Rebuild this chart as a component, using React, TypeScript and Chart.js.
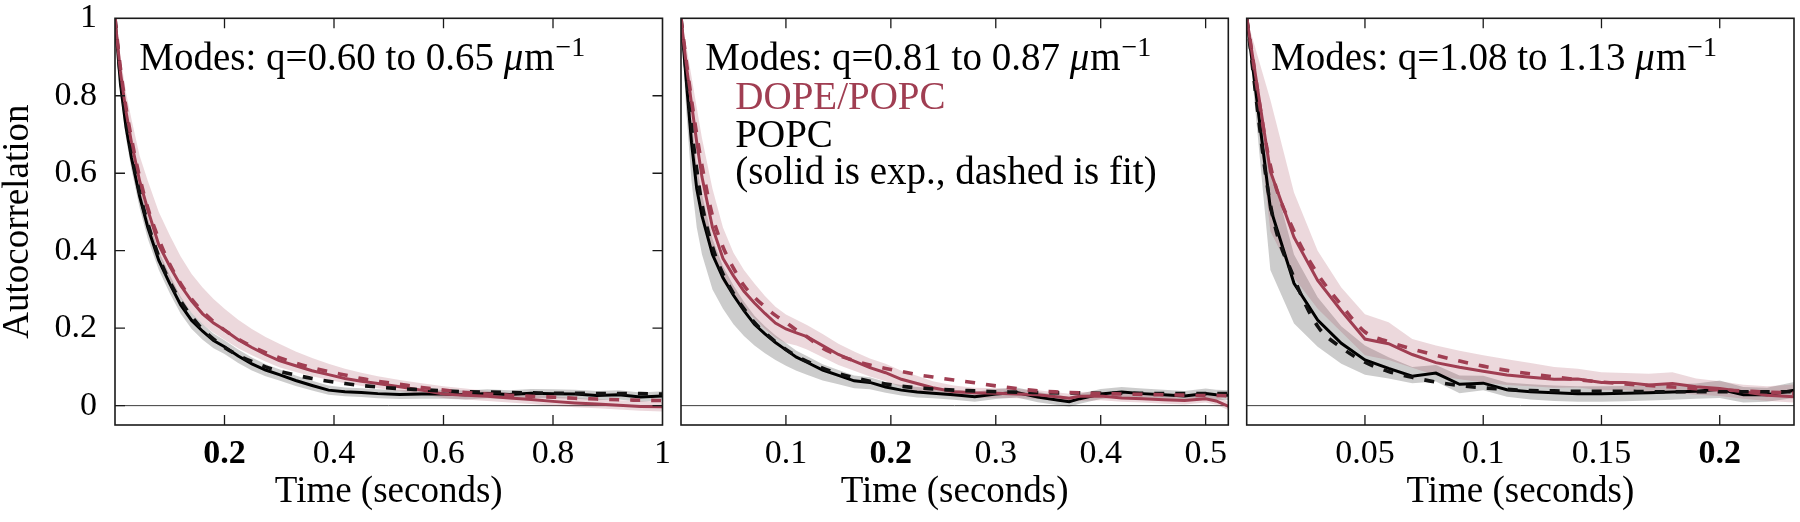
import React, { useEffect, useRef } from 'react';
import { Chart, registerables } from 'chart.js';

Chart.register(...registerables);

const FONT = '"Liberation Serif", "Times New Roman", serif';
const RED = 'rgb(160,62,82)';
const RED_BAND = 'rgba(160,62,82,0.2)';
const GRAY_BAND = 'rgba(0,0,0,0.2)';
const BLACK = '#000000';

// ---------- shared axis text ----------
const X_TITLE = 'Time (seconds)';
const Y_TITLE = 'Autocorrelation';
const YTICKS = [0, 0.2, 0.4, 0.6, 0.8, 1];
const YLABELS = ['0', '0.2', '0.4', '0.6', '0.8', '1'];
const BOLD_TICK = 0.2;
const UNIT_MU = 'μ';
const UNIT_M = 'm';
const UNIT_EXP = '−1';
const LEGEND_TEXT = ['DOPE/POPC', 'POPC', '(solid is exp., dashed is fit)'];

// ---------- panel 1: q = 0.60 to 0.65 ----------
const MODES1 = 'Modes: q=0.60 to 0.65 ';
const XMAX1 = 1;
const XTICKS1 = [0.2, 0.4, 0.6, 0.8, 1];
const XLABELS1 = ['0.2', '0.4', '0.6', '0.8', '1'];
const T1 = [0, 0.01, 0.02, 0.03, 0.045, 0.06, 0.08, 0.1, 0.12, 0.14, 0.16, 0.18, 0.2, 0.225, 0.25, 0.275, 0.3, 0.33, 0.36, 0.39, 0.42, 0.45, 0.48, 0.52, 0.56, 0.6, 0.64, 0.68, 0.72, 0.76, 0.8, 0.84, 0.88, 0.92, 0.96, 1.0];
const R1 = [1.0, 0.86, 0.76, 0.68, 0.58, 0.505, 0.415, 0.36, 0.31, 0.27, 0.237, 0.213, 0.195, 0.17, 0.15, 0.132, 0.116, 0.103, 0.09, 0.08, 0.07, 0.063, 0.057, 0.049, 0.04, 0.03, 0.027, 0.024, 0.02, 0.016, 0.011, 0.007, 0.004, 0.001, -0.002, -0.003];
const RF1 = [1.0, 0.87, 0.77, 0.69, 0.59, 0.51, 0.43, 0.365, 0.315, 0.275, 0.243, 0.217, 0.195, 0.172, 0.153, 0.137, 0.124, 0.11, 0.098, 0.088, 0.079, 0.07, 0.063, 0.055, 0.047, 0.04, 0.034, 0.03, 0.027, 0.024, 0.022, 0.019, 0.017, 0.015, 0.014, 0.013];
const B1 = [1.0, 0.83, 0.72, 0.64, 0.54, 0.46, 0.375, 0.315, 0.26, 0.22, 0.192, 0.168, 0.152, 0.128, 0.108, 0.092, 0.08, 0.065, 0.052, 0.04, 0.036, 0.034, 0.031, 0.029, 0.03, 0.03, 0.028, 0.031, 0.029, 0.032, 0.031, 0.03, 0.026, 0.028, 0.022, 0.025];
const BF1 = [1.0, 0.85, 0.74, 0.655, 0.55, 0.47, 0.385, 0.32, 0.27, 0.23, 0.197, 0.172, 0.15, 0.13, 0.114, 0.1, 0.089, 0.079, 0.07, 0.063, 0.057, 0.052, 0.048, 0.044, 0.041, 0.038, 0.036, 0.035, 0.034, 0.033, 0.032, 0.032, 0.031, 0.031, 0.031, 0.03];
const RU1 = [1.0, 0.9, 0.81, 0.74, 0.645, 0.58, 0.5, 0.44, 0.385, 0.34, 0.305, 0.275, 0.25, 0.222, 0.198, 0.177, 0.16, 0.14, 0.123, 0.108, 0.095, 0.085, 0.076, 0.066, 0.058, 0.05, 0.044, 0.038, 0.033, 0.029, 0.024, 0.02, 0.017, 0.014, 0.012, 0.01];
const RL1 = [1.0, 0.82, 0.72, 0.64, 0.545, 0.47, 0.39, 0.325, 0.278, 0.24, 0.21, 0.188, 0.17, 0.148, 0.13, 0.114, 0.099, 0.087, 0.076, 0.067, 0.058, 0.051, 0.045, 0.038, 0.03, 0.02, 0.016, 0.012, 0.008, 0.004, 0.0, -0.004, -0.007, -0.01, -0.013, -0.015];
const BU1 = [1.0, 0.85, 0.745, 0.665, 0.565, 0.485, 0.398, 0.337, 0.281, 0.24, 0.211, 0.186, 0.169, 0.145, 0.124, 0.107, 0.094, 0.078, 0.064, 0.052, 0.047, 0.045, 0.042, 0.04, 0.041, 0.041, 0.039, 0.042, 0.04, 0.043, 0.042, 0.041, 0.038, 0.04, 0.034, 0.037];
const BL1 = [1.0, 0.8, 0.69, 0.61, 0.51, 0.43, 0.35, 0.29, 0.237, 0.198, 0.17, 0.148, 0.133, 0.11, 0.091, 0.076, 0.065, 0.051, 0.039, 0.028, 0.024, 0.022, 0.019, 0.017, 0.018, 0.018, 0.016, 0.019, 0.017, 0.02, 0.019, 0.018, 0.014, 0.016, 0.01, 0.013];

// ---------- panel 2: q = 0.81 to 0.87 ----------
const MODES2 = 'Modes: q=0.81 to 0.87 ';
const XMAX2 = 0.5216;
const XTICKS2 = [0.1, 0.2, 0.3, 0.4, 0.5];
const XLABELS2 = ['0.1', '0.2', '0.3', '0.4', '0.5'];
const T2 = [0, 0.005, 0.01, 0.015, 0.02, 0.03, 0.04, 0.05, 0.06, 0.07, 0.08, 0.09, 0.1, 0.11, 0.12, 0.135, 0.15, 0.165, 0.18, 0.195, 0.21, 0.225, 0.24, 0.26, 0.28, 0.3, 0.32, 0.34, 0.36, 0.37, 0.38, 0.4, 0.42, 0.44, 0.46, 0.48, 0.5, 0.51, 0.522];
const R2 = [1.0, 0.88, 0.78, 0.68, 0.59, 0.46, 0.38, 0.335, 0.295, 0.265, 0.238, 0.213, 0.198, 0.188, 0.178, 0.155, 0.132, 0.115, 0.098, 0.085, 0.068, 0.057, 0.046, 0.036, 0.033, 0.032, 0.03, 0.028, 0.022, 0.019, 0.024, 0.025, 0.02, 0.018, 0.015, 0.013, 0.018, 0.012, -0.002];
const RF2 = [1.0, 0.89, 0.79, 0.7, 0.62, 0.49, 0.41, 0.355, 0.31, 0.28, 0.255, 0.233, 0.215, 0.195, 0.178, 0.148, 0.13, 0.116, 0.105, 0.096, 0.088, 0.08, 0.074, 0.066, 0.059, 0.051, 0.044, 0.038, 0.035, 0.034, 0.033, 0.031, 0.03, 0.029, 0.028, 0.027, 0.026, 0.026, 0.025];
const B2 = [1.0, 0.84, 0.68, 0.56, 0.49, 0.39, 0.33, 0.285, 0.245, 0.21, 0.185, 0.163, 0.144, 0.125, 0.112, 0.092, 0.078, 0.064, 0.06, 0.048, 0.04, 0.035, 0.032, 0.028, 0.023, 0.03, 0.034, 0.022, 0.014, 0.01, 0.018, 0.03, 0.035, 0.031, 0.028, 0.025, 0.031, 0.028, 0.027];
const BF2 = [1.0, 0.86, 0.72, 0.61, 0.52, 0.41, 0.34, 0.29, 0.25, 0.215, 0.188, 0.165, 0.145, 0.128, 0.114, 0.097, 0.083, 0.072, 0.063, 0.056, 0.05, 0.046, 0.043, 0.04, 0.038, 0.036, 0.035, 0.034, 0.033, 0.033, 0.033, 0.032, 0.032, 0.032, 0.031, 0.031, 0.031, 0.031, 0.031];
const RU2 = [1.0, 0.93, 0.85, 0.77, 0.69, 0.56, 0.46, 0.395, 0.35, 0.315, 0.283, 0.255, 0.235, 0.222, 0.208, 0.185, 0.16, 0.14, 0.122, 0.108, 0.09, 0.077, 0.063, 0.052, 0.046, 0.045, 0.043, 0.04, 0.034, 0.031, 0.035, 0.036, 0.031, 0.029, 0.026, 0.024, 0.029, 0.024, 0.01];
const RL2 = [1.0, 0.83, 0.7, 0.6, 0.51, 0.39, 0.32, 0.28, 0.25, 0.225, 0.198, 0.175, 0.162, 0.155, 0.145, 0.125, 0.105, 0.09, 0.075, 0.063, 0.048, 0.038, 0.03, 0.023, 0.02, 0.02, 0.019, 0.017, 0.011, 0.008, 0.012, 0.014, 0.01, 0.008, 0.005, 0.003, 0.008, 0.002, -0.012];
const BU2 = [1.0, 0.88, 0.74, 0.62, 0.545, 0.43, 0.36, 0.31, 0.268, 0.232, 0.205, 0.182, 0.162, 0.142, 0.128, 0.107, 0.092, 0.078, 0.073, 0.061, 0.053, 0.048, 0.045, 0.041, 0.036, 0.043, 0.047, 0.035, 0.027, 0.023, 0.031, 0.043, 0.048, 0.044, 0.041, 0.038, 0.044, 0.041, 0.04];
const BL2 = [1.0, 0.76, 0.58, 0.46, 0.39, 0.3, 0.25, 0.21, 0.18, 0.155, 0.135, 0.118, 0.103, 0.09, 0.08, 0.065, 0.055, 0.045, 0.042, 0.033, 0.026, 0.021, 0.019, 0.015, 0.01, 0.017, 0.021, 0.009, 0.001, -0.003, 0.005, 0.017, 0.022, 0.018, 0.015, 0.012, 0.018, 0.015, 0.014];

// ---------- panel 3: q = 1.08 to 1.13 ----------
const MODES3 = 'Modes: q=1.08 to 1.13 ';
const XMAX3 = 0.2314;
const XTICKS3 = [0.05, 0.1, 0.15, 0.2];
const XLABELS3 = ['0.05', '0.1', '0.15', '0.2'];
const T3 = [0, 0.01, 0.02, 0.03, 0.04, 0.05, 0.06, 0.07, 0.08, 0.09, 0.1, 0.11, 0.12, 0.13, 0.14, 0.15, 0.16, 0.17, 0.18, 0.19, 0.2, 0.21, 0.22, 0.232];
const R3 = [1.0, 0.605, 0.435, 0.323, 0.245, 0.172, 0.16, 0.132, 0.111, 0.099, 0.089, 0.079, 0.073, 0.068, 0.069, 0.06, 0.06, 0.053, 0.057, 0.049, 0.044, 0.036, 0.027, 0.023];
const RF3 = [1.0, 0.62, 0.45, 0.34, 0.26, 0.19, 0.165, 0.146, 0.13, 0.115, 0.102, 0.091, 0.082, 0.074, 0.067, 0.061, 0.056, 0.052, 0.048, 0.044, 0.041, 0.038, 0.035, 0.032];
const B3 = [1.0, 0.51, 0.316, 0.221, 0.161, 0.118, 0.096, 0.076, 0.084, 0.055, 0.058, 0.041, 0.036, 0.033, 0.031, 0.031, 0.032, 0.033, 0.035, 0.037, 0.042, 0.028, 0.028, 0.04];
const BF3 = [1.0, 0.52, 0.33, 0.205, 0.15, 0.112, 0.088, 0.073, 0.061, 0.052, 0.046, 0.042, 0.039, 0.038, 0.037, 0.037, 0.037, 0.036, 0.036, 0.036, 0.036, 0.036, 0.036, 0.036];
const RU3 = [1.0, 0.79, 0.55, 0.4, 0.305, 0.236, 0.215, 0.172, 0.155, 0.142, 0.13, 0.12, 0.11, 0.1, 0.095, 0.086, 0.084, 0.082, 0.086, 0.07, 0.063, 0.054, 0.05, 0.055];
const RL3 = [1.0, 0.45, 0.33, 0.25, 0.19, 0.13, 0.118, 0.098, 0.078, 0.068, 0.06, 0.053, 0.05, 0.046, 0.047, 0.04, 0.04, 0.034, 0.033, 0.028, 0.025, 0.018, 0.012, 0.008];
const BU3 = [1.0, 0.62, 0.39, 0.28, 0.205, 0.155, 0.125, 0.1, 0.105, 0.078, 0.077, 0.06, 0.055, 0.052, 0.05, 0.05, 0.051, 0.052, 0.055, 0.057, 0.065, 0.048, 0.046, 0.062];
const BL3 = [1.0, 0.35, 0.212, 0.152, 0.108, 0.08, 0.07, 0.058, 0.062, 0.032, 0.04, 0.023, 0.016, 0.012, 0.01, 0.01, 0.011, 0.013, 0.015, 0.018, 0.02, 0.008, 0.01, 0.02];

const PANELS = [
  { t: T1, red: R1, redFit: RF1, black: B1, blackFit: BF1, redUp: RU1, redLo: RL1, grayUp: BU1, grayLo: BL1, xmax: XMAX1, xticks: XTICKS1, xlabels: XLABELS1, modes: MODES1, legend: false, yAxis: true },
  { t: T2, red: R2, redFit: RF2, black: B2, blackFit: BF2, redUp: RU2, redLo: RL2, grayUp: BU2, grayLo: BL2, xmax: XMAX2, xticks: XTICKS2, xlabels: XLABELS2, modes: MODES2, legend: true, yAxis: false },
  { t: T3, red: R3, redFit: RF3, black: B3, blackFit: BF3, redUp: RU3, redLo: RL3, grayUp: BU3, grayLo: BL3, xmax: XMAX3, xticks: XTICKS3, xlabels: XLABELS3, modes: MODES3, legend: false, yAxis: false },
];

// layout (pixels)
const HEIGHT = 522;
const LAYOUT = [
  { left: 0, width: 680, padL: 0, padR: 17.5 },
  { left: 665, width: 580, padL: 16, padR: 16.7 },
  { left: 1230, width: 570, padL: 16.7, padR: 6 },
];
const PAD_TOP = 18.3;
const X_AXIS_H = 97;
const Y_AXIS_W = 115;
const TICK = 10;
const ANNOT_SIZE = 39;

const pts = (xs: number[], ys: number[]) => xs.map((x, i) => ({ x, y: ys[i] }));

function drawModes(ctx: CanvasRenderingContext2D, x: number, y: number, text: string) {
  ctx.textAlign = 'left';
  ctx.textBaseline = 'alphabetic';
  ctx.fillStyle = BLACK;
  ctx.font = `${ANNOT_SIZE}px ${FONT}`;
  ctx.fillText(text, x, y);
  x += ctx.measureText(text).width;
  ctx.font = `italic ${ANNOT_SIZE}px ${FONT}`;
  ctx.fillText(UNIT_MU, x, y);
  x += ctx.measureText(UNIT_MU).width + 1;
  ctx.font = `${ANNOT_SIZE}px ${FONT}`;
  ctx.fillText(UNIT_M, x, y);
  x += ctx.measureText(UNIT_M).width + 1;
  ctx.font = `28px ${FONT}`;
  ctx.fillText(UNIT_EXP, x, y - 14);
}

function makePlugin(p: any, idx: number) {
  return {
    id: 'frame' + idx,
    beforeDatasetsDraw(chart: any) {
      const { ctx, chartArea: a } = chart;
      const y0 = chart.scales.y.getPixelForValue(0);
      ctx.save();
      ctx.strokeStyle = '#3c3c3c';
      ctx.lineWidth = 1;
      ctx.beginPath();
      ctx.moveTo(a.left, y0);
      ctx.lineTo(a.right, y0);
      ctx.stroke();
      ctx.restore();
    },
    afterDraw(chart: any) {
      const { ctx, chartArea: a, scales } = chart;
      ctx.save();
      ctx.strokeStyle = '#1a1a1a';
      ctx.lineWidth = 1.6;
      ctx.strokeRect(a.left, a.top, a.right - a.left, a.bottom - a.top);
      ctx.lineWidth = 1.3;
      ctx.beginPath();
      for (const v of p.xticks) {
        if (v >= p.xmax) continue;
        const x = scales.x.getPixelForValue(v);
        ctx.moveTo(x, a.bottom);
        ctx.lineTo(x, a.bottom - TICK);
        ctx.moveTo(x, a.top);
        ctx.lineTo(x, a.top + TICK);
      }
      if (p.yAxis) {
        for (const v of YTICKS) {
          if (v >= 1) continue;
          const y = scales.y.getPixelForValue(v);
          ctx.moveTo(a.left, y);
          ctx.lineTo(a.left + TICK, y);
          ctx.moveTo(a.right, y);
          ctx.lineTo(a.right - TICK, y);
        }
      }
      ctx.stroke();

      drawModes(ctx, a.left + 24.3, 70, p.modes);
      if (p.legend) {
        const colors = [RED, BLACK, BLACK];
        const baselines = [109, 147, 184];
        ctx.font = `${ANNOT_SIZE}px ${FONT}`;
        ctx.textAlign = 'left';
        ctx.textBaseline = 'alphabetic';
        LEGEND_TEXT.forEach((txt, i) => {
          ctx.fillStyle = colors[i];
          ctx.fillText(txt, a.left + 54.3, baselines[i]);
        });
      }
      ctx.restore();
    },
  };
}

function PanelChart({ p, lay, idx }: { p: any; lay: any; idx: number }) {
  const ref = useRef<HTMLCanvasElement>(null);
  useEffect(() => {
    const canvas = ref.current!;
    const chart = new Chart(canvas, {
      type: 'line',
      data: {
        datasets: [
          { label: 'DOPE/POPC fit', data: pts(p.t, p.redFit), borderColor: RED, borderWidth: 3.6, borderDash: [10, 11], pointRadius: 0, fill: false, order: 0, cubicInterpolationMode: 'monotone' },
          { label: 'POPC fit', data: pts(p.t, p.blackFit), borderColor: '#111111', borderWidth: 3.6, borderDash: [10, 11], pointRadius: 0, fill: false, order: 1, cubicInterpolationMode: 'monotone' },
          { label: 'DOPE/POPC', data: pts(p.t, p.red), borderColor: RED, borderWidth: 3, pointRadius: 0, fill: false, order: 2 },
          { label: 'POPC', data: pts(p.t, p.black), borderColor: BLACK, borderWidth: 3, pointRadius: 0, fill: false, order: 3 },
          { label: 'DOPE/POPC upper', data: pts(p.t, p.redUp), borderColor: 'rgba(0,0,0,0)', borderWidth: 0, backgroundColor: RED_BAND, pointRadius: 0, fill: '+1', order: 4 },
          { label: 'DOPE/POPC lower', data: pts(p.t, p.redLo), borderColor: 'rgba(0,0,0,0)', borderWidth: 0, pointRadius: 0, fill: false, order: 5 },
          { label: 'POPC upper', data: pts(p.t, p.grayUp), borderColor: 'rgba(0,0,0,0)', borderWidth: 0, backgroundColor: GRAY_BAND, pointRadius: 0, fill: '+1', order: 6 },
          { label: 'POPC lower', data: pts(p.t, p.grayLo), borderColor: 'rgba(0,0,0,0)', borderWidth: 0, pointRadius: 0, fill: false, order: 7 },
        ],
      },
      options: {
        responsive: false,
        maintainAspectRatio: false,
        animation: false,
        devicePixelRatio: 1,
        layout: { padding: { left: lay.padL, right: lay.padR, top: PAD_TOP, bottom: 0 } },
        plugins: { legend: { display: false }, tooltip: { enabled: false }, title: { display: false } },
        elements: { point: { radius: 0 }, line: { tension: 0 } },
        scales: {
          x: {
            type: 'linear',
            min: 0,
            max: p.xmax,
            grid: { display: false, drawTicks: false },
            border: { display: false },
            afterBuildTicks: (s: any) => { s.ticks = p.xticks.map((v: number) => ({ value: v })); },
            afterFit: (s: any) => { s.height = X_AXIS_H; s.paddingLeft = 0; s.paddingRight = 0; },
            ticks: {
              autoSkip: false,
              maxRotation: 0,
              minRotation: 0,
              padding: 12,
              color: BLACK,
              font: (c: any) => ({ family: FONT, size: 34, lineHeight: 1, weight: c.tick && c.tick.value === BOLD_TICK ? 'bold' : 'normal' }),
              callback: (_v: any, i: number) => p.xlabels[i],
            },
            title: { display: true, text: X_TITLE, color: BLACK, font: { family: FONT, size: 37, lineHeight: 1 }, padding: { top: 0, bottom: 11 } },
          },
          y: {
            type: 'linear',
            min: -0.05,
            max: 1,
            display: p.yAxis,
            grid: { display: false, drawTicks: false },
            border: { display: false },
            afterBuildTicks: (s: any) => { s.ticks = YTICKS.map((v) => ({ value: v })); },
            afterFit: (s: any) => { if (p.yAxis) s.width = Y_AXIS_W; s.paddingTop = 0; s.paddingBottom = 0; },
            ticks: { padding: 18, color: BLACK, font: { family: FONT, size: 34, lineHeight: 1 }, callback: (_v: any, i: number) => YLABELS[i] },
            title: { display: true, text: Y_TITLE, color: BLACK, font: { family: FONT, size: 37, lineHeight: 1 }, padding: { top: 0, bottom: 0 } },
          },
        },
      } as any,
      plugins: [makePlugin(p, idx)],
    } as any);
    return () => chart.destroy();
  }, []);
  return (
    <canvas
      ref={ref}
      width={lay.width}
      height={HEIGHT}
      style={{ position: 'absolute', left: lay.left, top: 0, width: lay.width, height: HEIGHT }}
    />
  );
}

export default function App() {
  return (
    <div style={{ position: 'fixed', left: 0, top: 0, width: 1800, height: HEIGHT, background: '#ffffff', overflow: 'hidden' }}>
      {PANELS.map((p, i) => (
        <PanelChart key={i} p={p} lay={LAYOUT[i]} idx={i} />
      ))}
    </div>
  );
}
